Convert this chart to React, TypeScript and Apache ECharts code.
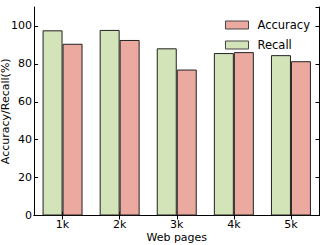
import React, { useEffect, useRef } from "react";
import * as echarts from "echarts";

const categories = ["1k", "2k", "3k", "4k", "5k"];
const recall = [97.7, 97.9, 88.2, 85.7, 84.6];
const accuracy = [90.6, 92.6, 77.0, 86.2, 81.4];
const yTicks = { min: 0, max: 110, interval: 20 };

const FONT = "DejaVu Sans";

export default function App() {
  const ref = useRef<HTMLDivElement>(null);
  useEffect(() => {
    if (!ref.current) return;
    const chart = echarts.init(ref.current, null, { renderer: "svg" });
    const tickStyle = { lineStyle: { color: "#000", width: 1 } };
    chart.setOption({
      animation: false,
      backgroundColor: "#fff",
      textStyle: { fontFamily: FONT },
      grid: { left: 34, right: 7.5, top: 7, bottom: 29.5, containLabel: false, outerBoundsMode: "none" },
      legend: {
        orient: "vertical",
        right: 12,
        top: 14,
        itemWidth: 23,
        itemHeight: 8,
        itemGap: 8,
        data: ["Accuracy", "Recall"],
        itemStyle: { borderColor: "#444", borderWidth: 1 },
        textStyle: { fontFamily: FONT, fontSize: 11.5, color: "#000", padding: [0, 0, 0, 4] },
        icon: "rect",
      },
      xAxis: [
        {
          type: "category",
          data: categories,
          position: "bottom",
          axisLine: { show: true, lineStyle: { color: "#000", width: 1 } },
          axisTick: { show: true, alignWithLabel: true, inside: true, length: 4, ...tickStyle },
          axisLabel: { color: "#000", fontSize: 11, fontFamily: FONT, margin: 3 },
          name: "Web pages",
          nameLocation: "middle",
          nameGap: 16,
          nameMoveOverlap: false,
          nameTextStyle: { color: "#000", fontSize: 11, fontFamily: FONT },
        },
        {
          type: "category",
          data: categories,
          position: "top",
          axisLine: { show: true, lineStyle: { color: "#000", width: 1 } },
          axisTick: { show: true, alignWithLabel: true, inside: true, length: 4, ...tickStyle },
          axisLabel: { show: false },
        },
      ],
      yAxis: [
        {
          type: "value",
          min: yTicks.min,
          max: yTicks.max,
          interval: yTicks.interval,
          position: "left",
          splitLine: { show: false },
          axisLine: { show: true, lineStyle: { color: "#000", width: 1 } },
          axisTick: { show: true, inside: true, length: 4, ...tickStyle },
          axisLabel: { color: "#000", fontSize: 11, fontFamily: FONT, margin: 2, showMaxLabel: false },
          name: "Accuracy/Recall(%)",
          nameLocation: "middle",
          nameGap: 23,
          nameMoveOverlap: false,
          nameTextStyle: { color: "#000", fontSize: 11, fontFamily: FONT },
        },
        {
          type: "value",
          min: yTicks.min,
          max: yTicks.max,
          interval: yTicks.interval,
          position: "right",
          splitLine: { show: false },
          axisLine: { show: true, lineStyle: { color: "#000", width: 1 } },
          axisTick: { show: true, inside: true, length: 4, ...tickStyle },
          axisLabel: { show: false },
        },
      ],
      series: [
        {
          name: "Recall",
          type: "bar",
          data: recall,
          barGap: "0%",
          barCategoryGap: "30%",
          itemStyle: { color: "#d3e4b8", borderColor: "#222", borderWidth: 1 },
        },
        {
          name: "Accuracy",
          type: "bar",
          data: accuracy,
          barGap: "0%",
          barCategoryGap: "30%",
          itemStyle: { color: "#eca9a0", borderColor: "#222", borderWidth: 1 },
        },
      ],
    });
    return () => chart.dispose();
  }, []);
  return <div ref={ref} style={{ width: 327, height: 245, position: "absolute", left: 0, top: 0 }} />;
}
